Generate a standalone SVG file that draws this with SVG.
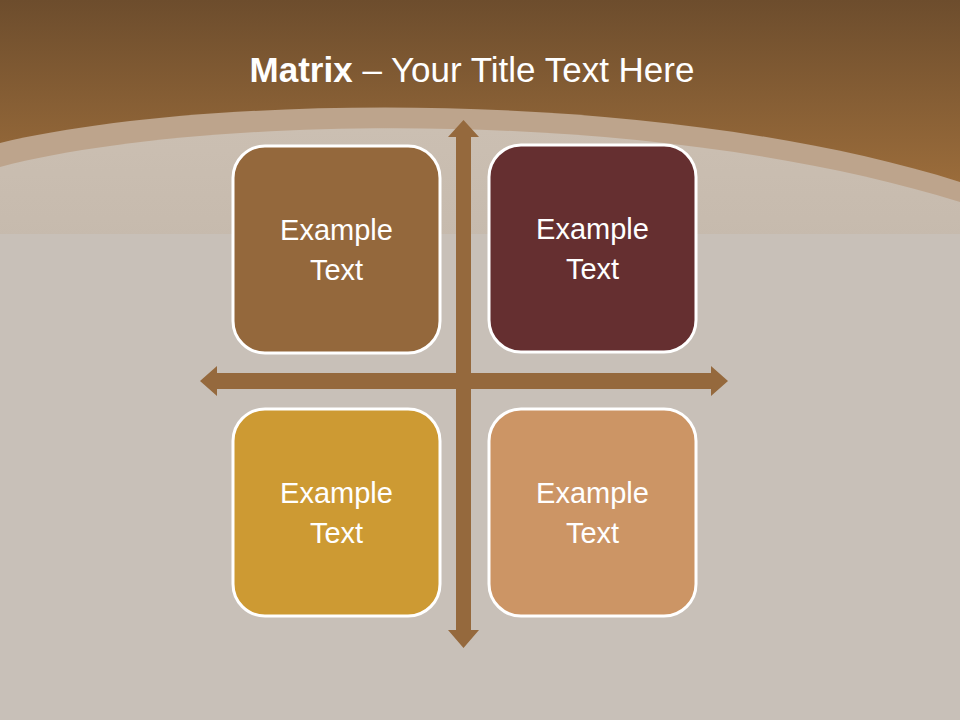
<svg xmlns="http://www.w3.org/2000/svg" width="960" height="720" viewBox="0 0 960 720">
<defs>
<linearGradient id="sky" x1="0" y1="0" x2="0" y2="1">
<stop offset="0" stop-color="#6d4d2d"/>
<stop offset="1" stop-color="#a9763f"/>
</linearGradient>
<linearGradient id="wood" x1="0" y1="0" x2="0" y2="1">
<stop offset="0" stop-color="#cbbfb2"/>
<stop offset="1" stop-color="#c6baad"/>
</linearGradient>
<style>
.box{stroke:#ffffff;stroke-width:3}
.lbl{font-family:"Liberation Sans",Arial,sans-serif;font-size:29px;fill:#ffffff;text-anchor:middle}
.axis{fill:#95693d}
</style>
</defs>
<rect x="0" y="0" width="960" height="720" fill="#c8c0b8"/>
<rect x="0" y="0" width="960" height="240" fill="url(#sky)"/>
<path d="M0,143 C200,95 650,85 960,182 L960,240 L0,240 Z" fill="#bda48c"/>
<path d="M0,167 C200,115 650,105 960,202 L960,240 L0,240 Z" fill="url(#wood)"/>
<rect x="0" y="234" width="960" height="486" fill="#c8c0b8"/>
<text x="472" y="82" font-family="Liberation Sans,Arial,sans-serif" font-size="35" fill="#ffffff" text-anchor="middle"><tspan font-weight="bold">Matrix</tspan> – Your Title Text Here</text>
<g id="connectors" class="axis">
<polygon points="463.5,120 479,137 471,137 471,630 479,630 463.5,648 448,630 456,630 456,137 448,137"/>
<polygon points="200,381 217,366 217,373 711,373 711,366 728,381 711,396 711,389 217,389 217,396"/>
</g>
<g id="node-tl">
<rect class="box" x="233" y="146" width="207" height="207" rx="32" fill="#94683c"/>
<text class="lbl" x="336.5" y="240">Example</text>
<text class="lbl" x="336.5" y="280">Text</text>
</g>
<g id="node-tr">
<rect class="box" x="489" y="145" width="207" height="207" rx="32" fill="#652f30"/>
<text class="lbl" x="592.5" y="239">Example</text>
<text class="lbl" x="592.5" y="279">Text</text>
</g>
<g id="node-bl">
<rect class="box" x="233" y="409" width="207" height="207" rx="32" fill="#cd9a33"/>
<text class="lbl" x="336.5" y="503">Example</text>
<text class="lbl" x="336.5" y="543">Text</text>
</g>
<g id="node-br">
<rect class="box" x="489" y="409" width="207" height="207" rx="32" fill="#cc9565"/>
<text class="lbl" x="592.5" y="503">Example</text>
<text class="lbl" x="592.5" y="543">Text</text>
</g>
</svg>
